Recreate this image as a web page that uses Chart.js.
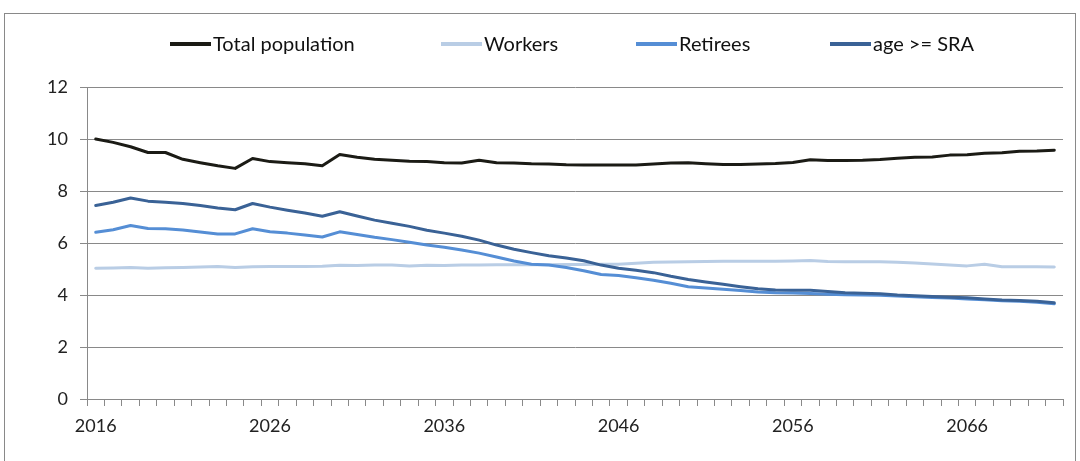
<!DOCTYPE html>
<html>
<head>
<meta charset="utf-8">
<script src="https://cdn.jsdelivr.net/npm/chart.js@4.4.0/dist/chart.umd.min.js"></script>
<style>
  html, body { margin: 0; padding: 0; background: #fff; }
  #wrap { position: relative; width: 1080px; height: 461px; overflow: hidden; }
  #frame { position: absolute; left: 4px; top: 13px; width: 1072px; height: 470px; border: 1px solid #898989; box-sizing: border-box; }
  canvas { position: absolute; left: 0; top: 0; }
</style>
</head>
<body>
<div id="wrap">
  <div id="frame"></div>
  <canvas id="chart" width="1080" height="461"></canvas>
</div>
<script>
// ===== DATA =====
const years = ["2016","2017","2018","2019","2020","2021","2022","2023","2024","2025",
  "2026","2027","2028","2029","2030","2031","2032","2033","2034","2035",
  "2036","2037","2038","2039","2040","2041","2042","2043","2044","2045",
  "2046","2047","2048","2049","2050","2051","2052","2053","2054","2055",
  "2056","2057","2058","2059","2060","2061","2062","2063","2064","2065",
  "2066","2067","2068","2069","2070","2071"];
const tickYears = ["2016","2026","2036","2046","2056","2066"];

const totalPopulation = [10.00,9.87,9.70,9.48,9.48,9.22,9.09,8.97,8.87,9.25,
  9.13,9.09,9.05,8.97,9.40,9.30,9.22,9.18,9.14,9.13,
  9.09,9.08,9.18,9.09,9.08,9.05,9.04,9.01,9.00,9.00,
  9.00,9.00,9.04,9.08,9.09,9.05,9.02,9.02,9.04,9.06,
  9.10,9.20,9.17,9.17,9.18,9.21,9.26,9.30,9.31,9.38,
  9.39,9.45,9.47,9.53,9.54,9.57];
const workers = [5.03,5.04,5.06,5.03,5.05,5.06,5.08,5.10,5.06,5.09,
  5.10,5.10,5.10,5.11,5.14,5.13,5.15,5.15,5.12,5.14,
  5.13,5.15,5.15,5.16,5.16,5.16,5.16,5.17,5.17,5.18,
  5.18,5.22,5.26,5.27,5.28,5.29,5.30,5.30,5.30,5.30,
  5.31,5.33,5.29,5.28,5.28,5.28,5.26,5.23,5.19,5.15,
  5.12,5.18,5.09,5.09,5.09,5.08];
const retirees = [6.41,6.51,6.67,6.56,6.55,6.50,6.42,6.35,6.35,6.55,
  6.43,6.38,6.31,6.23,6.43,6.33,6.22,6.13,6.03,5.92,
  5.84,5.73,5.61,5.46,5.31,5.18,5.15,5.06,4.93,4.79,
  4.75,4.66,4.57,4.45,4.32,4.27,4.22,4.17,4.12,4.09,
  4.08,4.06,4.03,4.01,4.00,3.99,3.96,3.93,3.90,3.88,
  3.85,3.82,3.78,3.76,3.72,3.66];
const ageSRA = [7.44,7.57,7.73,7.61,7.57,7.52,7.44,7.35,7.28,7.52,
  7.38,7.26,7.15,7.03,7.20,7.04,6.88,6.76,6.64,6.49,
  6.38,6.26,6.11,5.92,5.76,5.63,5.51,5.42,5.32,5.15,
  5.03,4.95,4.86,4.72,4.60,4.50,4.41,4.32,4.24,4.19,
  4.18,4.18,4.13,4.09,4.07,4.05,4.00,3.97,3.94,3.91,
  3.89,3.85,3.81,3.79,3.76,3.70];

// ===== STYLE =====
const FONT = "Lato";
const GRID = "#898989";
const TEXT = "#222";

// legend drawn like the spreadsheet one: line sample + label, fixed slots
const legendStart = [170, 441, 636, 830];
const lineLegend = {
  id: "lineLegend",
  afterDraw(chart) {
    const ctx = chart.ctx;
    ctx.save();
    ctx.font = `20px ${FONT}`;
    ctx.textBaseline = "middle";
    chart.data.datasets.forEach((ds, i) => {
      const x = legendStart[i], y = 44;
      ctx.strokeStyle = ds.borderColor;
      ctx.lineWidth = 4;
      ctx.beginPath(); ctx.moveTo(x, y); ctx.lineTo(x + 41, y); ctx.stroke();
      ctx.fillStyle = "#111";
      ctx.fillText(ds.label, x + 43, y + 1);
    });
    ctx.restore();
  }
};

const line = (label, data, color, order) => ({
  label, data, borderColor: color, backgroundColor: color, order,
  borderWidth: 3, pointRadius: 0, tension: 0,
  borderJoinStyle: "round", borderCapStyle: "round", fill: false
});

new Chart(document.getElementById("chart").getContext("2d"), {
  type: "line",
  data: {
    labels: years,
    datasets: [
      line("Total population", totalPopulation, "#1b1b15", 3),
      line("Workers", workers, "#b9cde5", 2),
      line("Retirees", retirees, "#558ed5", 1),
      line("age >= SRA", ageSRA, "#3a6296", 0)
    ]
  },
  options: {
    responsive: false,
    animation: false,
    layout: { padding: { top: 87, right: 17, bottom: 23, left: 0 } },
    plugins: { legend: { display: false }, tooltip: { enabled: false } },
    scales: {
      x: {
        offset: true,
        grid: { offset: true, drawOnChartArea: false, drawTicks: true, tickLength: 7, color: GRID },
        border: { color: GRID },
        ticks: {
          autoSkip: false, maxRotation: 0, minRotation: 0, padding: 9,
          color: TEXT, font: { family: FONT, size: 18 },
          callback(v) { const y = this.getLabelForValue(v); return tickYears.includes(y) ? y : ""; }
        },
        afterFit(s) { s.height = 39; }
      },
      y: {
        min: 0, max: 12,
        ticks: { stepSize: 2, padding: 12, color: TEXT, font: { family: FONT, size: 18 } },
        grid: { color: GRID, tickLength: 7 },
        border: { color: GRID },
        afterFit(s) { s.width = 87; }
      }
    }
  },
  plugins: [lineLegend]
});
</script>
</body>
</html>
